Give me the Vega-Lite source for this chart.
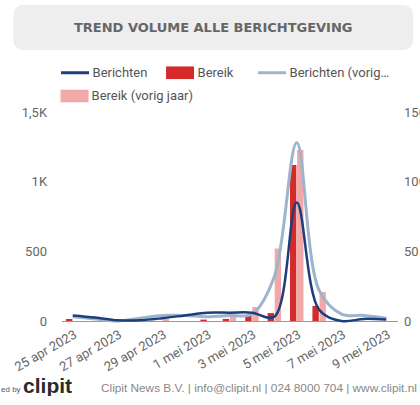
{
  "$schema": "https://vega.github.io/schema/vega-lite/v6.json",
  "background": "white",
  "padding": {"left": 0, "top": 5, "right": 0, "bottom": 0},
  "spacing": 16,
  "center": true,
  "resolve": {"legend": {"color": "independent", "fill": "independent"}},
  "config": {
    "view": {"stroke": null},
    "axis": {"grid": false, "labelFont": "Roboto", "labelFontSize": 13, "labelColor": "#666666", "titleFont": "Roboto"}
  },
  "datasets": {
    "main": [
      {"d": "25 apr 2023", "s": "Bereik", "v": 15},
      {"d": "26 apr 2023", "s": "Bereik", "v": 0},
      {"d": "27 apr 2023", "s": "Bereik", "v": 0},
      {"d": "28 apr 2023", "s": "Bereik", "v": 0},
      {"d": "29 apr 2023", "s": "Bereik", "v": 0},
      {"d": "30 apr 2023", "s": "Bereik", "v": 0},
      {"d": "1 mei 2023", "s": "Bereik", "v": 10},
      {"d": "2 mei 2023", "s": "Bereik", "v": 15},
      {"d": "3 mei 2023", "s": "Bereik", "v": 43},
      {"d": "4 mei 2023", "s": "Bereik", "v": 57},
      {"d": "5 mei 2023", "s": "Bereik", "v": 1120},
      {"d": "6 mei 2023", "s": "Bereik", "v": 108},
      {"d": "7 mei 2023", "s": "Bereik", "v": 0},
      {"d": "8 mei 2023", "s": "Bereik", "v": 0},
      {"d": "9 mei 2023", "s": "Bereik", "v": 0},
      {"d": "25 apr 2023", "s": "Bereik (vorig jaar)", "v": 0},
      {"d": "26 apr 2023", "s": "Bereik (vorig jaar)", "v": 0},
      {"d": "27 apr 2023", "s": "Bereik (vorig jaar)", "v": 0},
      {"d": "28 apr 2023", "s": "Bereik (vorig jaar)", "v": 0},
      {"d": "29 apr 2023", "s": "Bereik (vorig jaar)", "v": 20},
      {"d": "30 apr 2023", "s": "Bereik (vorig jaar)", "v": 0},
      {"d": "1 mei 2023", "s": "Bereik (vorig jaar)", "v": 0},
      {"d": "2 mei 2023", "s": "Bereik (vorig jaar)", "v": 30},
      {"d": "3 mei 2023", "s": "Bereik (vorig jaar)", "v": 100},
      {"d": "4 mei 2023", "s": "Bereik (vorig jaar)", "v": 520},
      {"d": "5 mei 2023", "s": "Bereik (vorig jaar)", "v": 1227},
      {"d": "6 mei 2023", "s": "Bereik (vorig jaar)", "v": 208},
      {"d": "7 mei 2023", "s": "Bereik (vorig jaar)", "v": 0},
      {"d": "8 mei 2023", "s": "Bereik (vorig jaar)", "v": 0},
      {"d": "9 mei 2023", "s": "Bereik (vorig jaar)", "v": 0},
      {"d": "25 apr 2023", "s": "Berichten", "v": 4},
      {"d": "26 apr 2023", "s": "Berichten", "v": 2.5},
      {"d": "27 apr 2023", "s": "Berichten", "v": 0.5},
      {"d": "28 apr 2023", "s": "Berichten", "v": 0.5},
      {"d": "29 apr 2023", "s": "Berichten", "v": 2},
      {"d": "30 apr 2023", "s": "Berichten", "v": 4},
      {"d": "1 mei 2023", "s": "Berichten", "v": 6},
      {"d": "2 mei 2023", "s": "Berichten", "v": 6},
      {"d": "3 mei 2023", "s": "Berichten", "v": 6},
      {"d": "4 mei 2023", "s": "Berichten", "v": 3},
      {"d": "5 mei 2023", "s": "Berichten", "v": 85},
      {"d": "6 mei 2023", "s": "Berichten", "v": 8},
      {"d": "7 mei 2023", "s": "Berichten", "v": 0},
      {"d": "8 mei 2023", "s": "Berichten", "v": 1.5},
      {"d": "9 mei 2023", "s": "Berichten", "v": 1},
      {"d": "25 apr 2023", "s": "Berichten (vorig jaar)", "v": 3},
      {"d": "26 apr 2023", "s": "Berichten (vorig jaar)", "v": 1.5},
      {"d": "27 apr 2023", "s": "Berichten (vorig jaar)", "v": 0},
      {"d": "28 apr 2023", "s": "Berichten (vorig jaar)", "v": 2},
      {"d": "29 apr 2023", "s": "Berichten (vorig jaar)", "v": 4},
      {"d": "30 apr 2023", "s": "Berichten (vorig jaar)", "v": 4},
      {"d": "1 mei 2023", "s": "Berichten (vorig jaar)", "v": 3},
      {"d": "2 mei 2023", "s": "Berichten (vorig jaar)", "v": 4},
      {"d": "3 mei 2023", "s": "Berichten (vorig jaar)", "v": 5},
      {"d": "4 mei 2023", "s": "Berichten (vorig jaar)", "v": 32},
      {"d": "5 mei 2023", "s": "Berichten (vorig jaar)", "v": 128},
      {"d": "6 mei 2023", "s": "Berichten (vorig jaar)", "v": 22},
      {"d": "7 mei 2023", "s": "Berichten (vorig jaar)", "v": 5},
      {"d": "8 mei 2023", "s": "Berichten (vorig jaar)", "v": 4},
      {"d": "9 mei 2023", "s": "Berichten (vorig jaar)", "v": 2}
    ],
    "header": [{"t": "TREND VOLUME ALLE BERICHTGEVING"}]
  },
  "vconcat": [
    {
      "width": 400,
      "height": 45,
      "data": {"name": "header"},
      "view": {"fill": "#eeeeee", "stroke": null, "cornerRadius": 10},
      "mark": {"type": "text", "font": "DejaVu Sans", "fontWeight": "bold", "fontSize": 13, "color": "#666666"},
      "encoding": {
        "text": {"field": "t"},
        "y": {"field": "t", "type": "nominal", "axis": {"orient": "right", "labels": false, "domain": false, "ticks": true, "tickSize": 60, "tickColor": "#ffffff", "title": null}}
      }
    },
    {
      "width": 336,
      "height": 209,
      "data": {"name": "main"},
      "encoding": {
        "x": {
          "field": "d",
          "type": "ordinal",
          "scale": {
            "domain": ["25 apr 2023", "26 apr 2023", "27 apr 2023", "28 apr 2023", "29 apr 2023", "30 apr 2023", "1 mei 2023", "2 mei 2023", "3 mei 2023", "4 mei 2023", "5 mei 2023", "6 mei 2023", "7 mei 2023", "8 mei 2023", "9 mei 2023"],
            "paddingInner": 0.4,
            "paddingOuter": 0.2
          },
          "axis": {
            "values": ["25 apr 2023", "27 apr 2023", "29 apr 2023", "1 mei 2023", "3 mei 2023", "5 mei 2023", "7 mei 2023", "9 mei 2023"],
            "labelAngle": -30,
            "labelAlign": "right",
            "labelBaseline": "top",
            "labelPadding": 7,
            "ticks": false,
            "domainColor": "#999999",
            "title": "Clipit News B.V. | info@clipit.nl | 024 8000 704 | www.clipit.nl",
            "titleFont": "Liberation Sans",
            "titleFontSize": 11.8,
            "titleFontWeight": "normal",
            "titleColor": "#888888",
            "titleAlign": "left",
            "titleAnchor": "start",
            "titleBaseline": "alphabetic",
            "titleX": 39,
            "titleY": 70
          }
        }
      },
      "layer": [
        {
          "encoding": {
            "xOffset": {"field": "s", "type": "nominal", "scale": {"domain": ["Bereik", "Bereik (vorig jaar)"], "paddingInner": 0.1}},
            "y": {
              "field": "v",
              "type": "quantitative",
              "scale": {"domain": [0, 1500], "nice": false},
              "axis": {
                "values": [0, 500, 1000, 1500],
                "labelExpr": "datum.value >= 1000 ? replace(format(datum.value / 1000, '~g'), '.', ',') + 'K' : datum.label",
                "domain": false,
                "ticks": false,
                "labelPadding": 15,
                "title": "clipit",
                "titleFont": "Liberation Sans",
                "titleFontSize": 21,
                "titleFontWeight": "bold",
                "titleColor": "#2a2a2a",
                "titleAngle": 0,
                "titleAlign": "left",
                "titleBaseline": "alphabetic",
                "titleX": -39,
                "titleY": 280
              }
            }
          },
          "layer": [
            {
              "transform": [{"filter": "datum.s == 'Bereik'"}],
              "mark": {"type": "bar"},
              "encoding": {
                "color": {
                  "field": "s",
                  "type": "nominal",
                  "scale": {"domain": ["Berichten", "Bereik", "Berichten (vorig jaar)"], "range": ["#1c3f7c", "#d42a2a", "#9db4cd"]},
                  "legend": {
                    "title": null,
                    "orient": "none",
                    "legendX": -1,
                    "legendY": -46,
                    "direction": "horizontal",
                    "labelFont": "Roboto",
                    "labelFontSize": 13,
                    "labelColor": "#555555",
                    "labelLimit": 102,
                    "labelOffset": 19,
                    "columnPadding": 18,
                    "encode": {
                      "symbols": {
                        "update": {
                          "size": {"value": 784},
                          "shape": {"signal": "datum.value == 'Bereik' ? 'M-0.4286,-0.45H1.5714V0.45H-0.4286Z' : 'M-0.4286,0H1.5714'"},
                          "strokeWidth": {"signal": "datum.value == 'Bereik' ? 0 : 3"},
                          "fill": {"signal": "datum.value == 'Bereik' ? scale('color', datum.value) : 'transparent'"},
                          "stroke": {"signal": "scale('color', datum.value)"},
                          "opacity": {"value": 1},
                          "fillOpacity": {"value": 1}
                        }
                      }
                    }
                  }
                }
              }
            },
            {
              "transform": [{"filter": "datum.s == 'Bereik (vorig jaar)'"}],
              "mark": {"type": "bar"},
              "encoding": {
                "fill": {
                  "field": "s",
                  "type": "nominal",
                  "scale": {"domain": ["Bereik (vorig jaar)"], "range": ["#f0a8a8"]},
                  "legend": {
                    "title": null,
                    "orient": "none",
                    "legendX": -1,
                    "legendY": -30,
                    "direction": "horizontal",
                    "labelFont": "Roboto",
                    "labelFontSize": 13,
                    "labelColor": "#555555",
                    "labelLimit": 200,
                    "labelOffset": 3,
                    "encode": {
                      "symbols": {
                        "update": {
                          "size": {"value": 784},
                          "shape": {"value": "M-1,-0.45H1V0.45H-1Z"},
                          "strokeWidth": {"value": 0},
                          "fill": {"value": "#f0a8a8"},
                          "opacity": {"value": 1},
                          "fillOpacity": {"value": 1}
                        }
                      }
                    }
                  }
                }
              }
            }
          ]
        },
        {
          "encoding": {
            "y": {
              "field": "v",
              "type": "quantitative",
              "scale": {"domain": [0, 150], "nice": false},
              "axis": {
                "orient": "right",
                "values": [0, 50, 100, 150],
                "domain": false,
                "ticks": false,
                "labelPadding": 6,
                "title": "ed by",
                "titleFont": "Liberation Sans",
                "titleFontSize": 8,
                "titleFontWeight": "normal",
                "titleColor": "#555555",
                "titleAngle": 0,
                "titleAlign": "left",
                "titleBaseline": "alphabetic",
                "titleX": -397,
                "titleY": 279
              }
            },
            "color": {
              "field": "s",
              "type": "nominal",
              "scale": {"domain": ["Berichten", "Bereik", "Berichten (vorig jaar)"], "range": ["#1c3f7c", "#d42a2a", "#9db4cd"]}
            }
          },
          "layer": [
            {
              "transform": [{"filter": "datum.s == 'Berichten (vorig jaar)'"}],
              "mark": {"type": "line", "interpolate": "catmull-rom", "strokeWidth": 3}
            },
            {
              "transform": [{"filter": "datum.s == 'Berichten'"}],
              "mark": {"type": "line", "interpolate": "catmull-rom", "strokeWidth": 2.5}
            }
          ]
        }
      ],
      "resolve": {"scale": {"y": "independent"}}
    }
  ]
}
